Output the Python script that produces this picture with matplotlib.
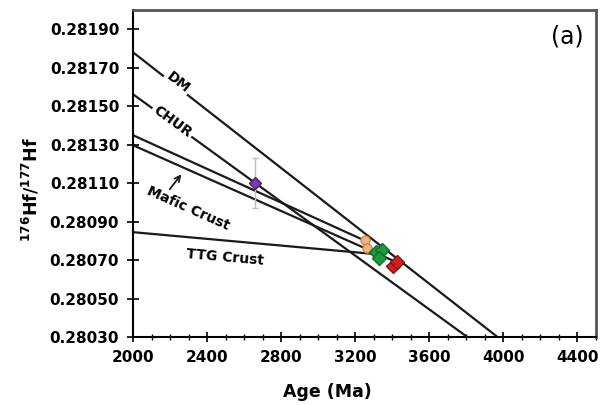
import matplotlib
matplotlib.use('Agg')
import matplotlib.pyplot as plt
from matplotlib.ticker import MultipleLocator

# reference lines (age in Ma, 176Hf/177Hf)
dm_age = [2000, 3968]
dm_hf = [0.28178, 0.28030]
chur_age = [2000, 3805]
chur_hf = [0.281562, 0.28030]
mafic1_age = [2000, 3254]
mafic1_hf = [0.281349, 0.28080]
mafic2_age = [2000, 3420]
mafic2_hf = [0.281297, 0.28069]
ttg_age = [2000, 3320]
ttg_hf = [0.280845, 0.28073]

# samples
purple_age = [2660]
purple_hf = [0.28110]
purple_err = [0.00013]
orange_age = [3254, 3265]
orange_hf = [0.280804, 0.280762]
green_age = [3310, 3345, 3330]
green_hf = [0.28074, 0.28075, 0.28071]
red_age = [3405, 3425]
red_hf = [0.28067, 0.28069]

yticks = [0.28030, 0.28050, 0.28070, 0.28090, 0.28110, 0.28130, 0.28150, 0.28170, 0.28190]
ytick_labels = ['0.28030', '0.28050', '0.28070', '0.28090', '0.28110',
                '0.28130', '0.28150', '0.28170', '0.28190']

fig = plt.figure(figsize=(6.03, 4.05), dpi=100)
ax = fig.add_axes([0.2206, 0.1679, 0.7678, 0.8074])

lw = 1.6
for a, h in [(dm_age, dm_hf), (chur_age, chur_hf), (mafic1_age, mafic1_hf),
             (mafic2_age, mafic2_hf), (ttg_age, ttg_hf)]:
    ax.plot(a, h, color='#1a1a1a', lw=lw, zorder=2)

# purple sample with error bar
ax.errorbar(purple_age, purple_hf, yerr=purple_err, fmt='none', ecolor='#c0c0c0',
            elinewidth=1, capsize=2, zorder=3)
ax.plot(purple_age, purple_hf, 'D', color='#7a3d9e', mec='#4b1f66', ms=6.5, zorder=4)
ax.plot(orange_age, orange_hf, 'o', color='#f2b47c', mec='#c98a55', ms=6.5, zorder=4)
ax.plot(green_age, green_hf, 'D', color='#1e9a3a', mec='#136b27', ms=7, zorder=4)
ax.plot(red_age, red_hf, 'D', color='#cc1f1f', mec='#8c1010', ms=7, zorder=4)

# line labels
box = dict(facecolor='white', edgecolor='none', pad=1.5)
ax.text(2243, 0.281625, 'DM', rotation=-38, ha='center', va='center',
        fontsize=10, fontweight='bold', bbox=box, zorder=5)
ax.text(2211, 0.281417, 'CHUR', rotation=-36, ha='center', va='center',
        fontsize=10, fontweight='bold', bbox=box, zorder=5)
ax.text(2297, 0.28097, 'Mafic Crust', rotation=-24, ha='center', va='center',
        fontsize=10, fontweight='bold', zorder=5)
ax.text(2497, 0.280716, 'TTG Crust', rotation=-5, ha='center', va='center',
        fontsize=10, fontweight='bold', zorder=5)
ax.annotate('', xy=(2270, 0.281157), xytext=(2189, 0.281057),
            arrowprops=dict(arrowstyle='->', color='#1a1a1a', lw=1.3), zorder=5)

ax.text(0.937, 0.92, '(a)', transform=ax.transAxes, ha='center', va='center',
        fontsize=17)

ax.set_xlim(2000, 4500)
ax.set_ylim(0.2803, 0.2820)
ax.xaxis.set_major_locator(MultipleLocator(400))
ax.xaxis.set_minor_locator(MultipleLocator(100))
ax.set_yticks(yticks)
ax.set_yticklabels(ytick_labels)

ax.tick_params(axis='y', direction='inout', length=8, width=1.2, pad=6, labelsize=11)
ax.tick_params(axis='x', which='major', direction='inout', length=7, width=1.2, pad=6,
               labelsize=11)
ax.tick_params(axis='x', which='minor', direction='inout', length=5, width=1)
for lbl in ax.get_xticklabels() + ax.get_yticklabels():
    lbl.set_fontweight('bold')

ax.set_xlabel('Age (Ma)', fontsize=12.5, fontweight='bold')
ax.xaxis.set_label_coords(0.42, -0.14)
ax.set_ylabel(r'$\mathbf{^{176}Hf/^{177}Hf}$', fontsize=12.5)
ax.yaxis.set_label_coords(-0.198, 0.45)

ax.spines['left'].set_linewidth(1.5)
ax.spines['bottom'].set_linewidth(1.5)
for s in ['top', 'right']:
    ax.spines[s].set_color('#555555')
    ax.spines[s].set_linewidth(2)

fig.savefig('out.png', dpi=100)
